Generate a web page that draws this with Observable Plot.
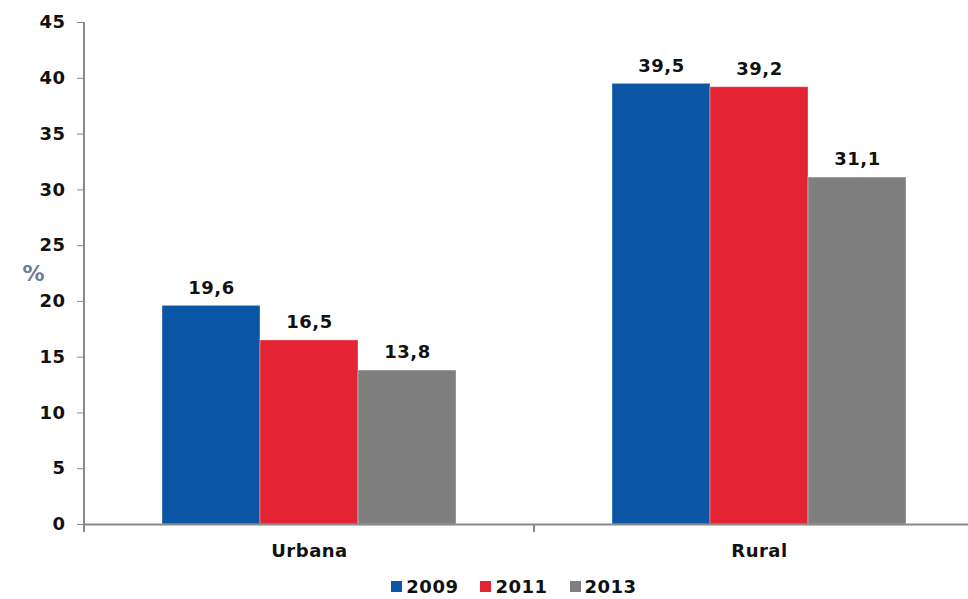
<!DOCTYPE html>
<html>
<head>
<meta charset="utf-8">
<script src="https://cdn.jsdelivr.net/npm/d3@7"></script>
<script src="https://cdn.jsdelivr.net/npm/@observablehq/plot@0.6"></script>
<style>
  html, body { margin: 0; padding: 0; background: #fff; overflow: hidden; }
  #wrap { position: relative; width: 968px; height: 599px; }
  #legend { position: absolute; left: 0; top: 576px; width: 968px; display: flex; justify-content: center; gap: 22px;
            font-family: "DejaVu Sans", Verdana, sans-serif; font-weight: bold; font-size: 18px; color: #111; padding-left: 60px; box-sizing: border-box; letter-spacing: 0.5px; }
  #legend .item { display: flex; align-items: center; gap: 4px; }
  #legend .sw { width: 11px; height: 11px; display: inline-block; }
</style>
</head>
<body>
<div id="wrap"></div>
<script>
const categories = ["Urbana", "Rural"];
const years = ["2009", "2011", "2013"];
const urbanaValues = [19.6, 16.5, 13.8];
const ruralValues = [39.5, 39.2, 31.1];
const yearColors = ["#0b55a5", "#e42334", "#7f7f7f"];
const yTicks = [0, 5, 10, 15, 20, 25, 30, 35, 40, 45];
const yLabel = "%";

const seriesByCat = [urbanaValues, ruralValues];
const data = categories.flatMap((c, i) => years.map((y, j) => ({cat: c, year: y, value: seriesByCat[i][j]})));
const fmt = v => v.toFixed(1).replace(".", ",");
const font = "'DejaVu Sans', Verdana, sans-serif";

const chart = Plot.plot({
  width: 968,
  height: 568,
  marginLeft: 84,
  marginRight: 0,
  marginTop: 22,
  marginBottom: 44,
  style: {fontFamily: font, fontSize: "18px", fontWeight: "bold", color: "#111", background: "#fff", letterSpacing: "0.5px"},
  fx: {domain: categories, range: [84, 984], padding: 0, label: null},
  x: {domain: years, paddingInner: 0, paddingOuter: 0.773, axis: null},
  y: {domain: [0, 45], label: null},
  color: {domain: years, range: yearColors},
  marks: [
    Plot.barY(data, {fx: "cat", x: "year", y: "value", fill: "year", stroke: "#ffffff", strokeOpacity: 0.35, strokeWidth: 1}),
    Plot.text(data, {fx: "cat", x: "year", y: "value", text: d => fmt(d.value), dy: -18, fill: "#111", fontSize: 18, fontWeight: "bold"}),
    Plot.ruleY([0], {stroke: "#888", strokeWidth: 2}),
    Plot.axisY(yTicks, {tickSize: 7, tickPadding: 12, stroke: "#888", fill: "#111", fontSize: 18, fontWeight: "bold", label: null}),
    Plot.axisFx({anchor: "bottom", tickSize: 0, tickPadding: 20, fill: "#111", fontSize: 18, fontWeight: "bold", label: null}),
    Plot.text([yLabel], {frameAnchor: "left", dx: -62, facetAnchor: "left", fill: "#6a7d95", fontSize: 22, fontWeight: "bold"})
  ]
});

// axis line and category separators from the library's scales
const svg = d3.select(chart.tagName.toLowerCase() === "svg" ? chart : chart.querySelector("svg"));
const fx = chart.scale("fx");
const y = chart.scale("y");
const y0 = y.apply(0), yTop = y.apply(45);
const x0 = fx.range[0];
svg.append("line").attr("x1", x0).attr("x2", x0).attr("y1", yTop).attr("y2", y0 + 8)
  .attr("stroke", "#888").attr("stroke-width", 2);
categories.slice(1).forEach(c => {
  const xs = fx.apply(c);
  svg.append("line").attr("x1", xs).attr("x2", xs).attr("y1", y0).attr("y2", y0 + 8)
    .attr("stroke", "#888").attr("stroke-width", 2);
});

const wrap = document.getElementById("wrap");
wrap.appendChild(chart);

const legend = document.createElement("div");
legend.id = "legend";
years.forEach((yr, i) => {
  const item = document.createElement("span");
  item.className = "item";
  item.innerHTML = `<span class="sw" style="background:${yearColors[i]}"></span><span>${yr}</span>`;
  legend.appendChild(item);
});
wrap.appendChild(legend);
</script>
</body>
</html>
